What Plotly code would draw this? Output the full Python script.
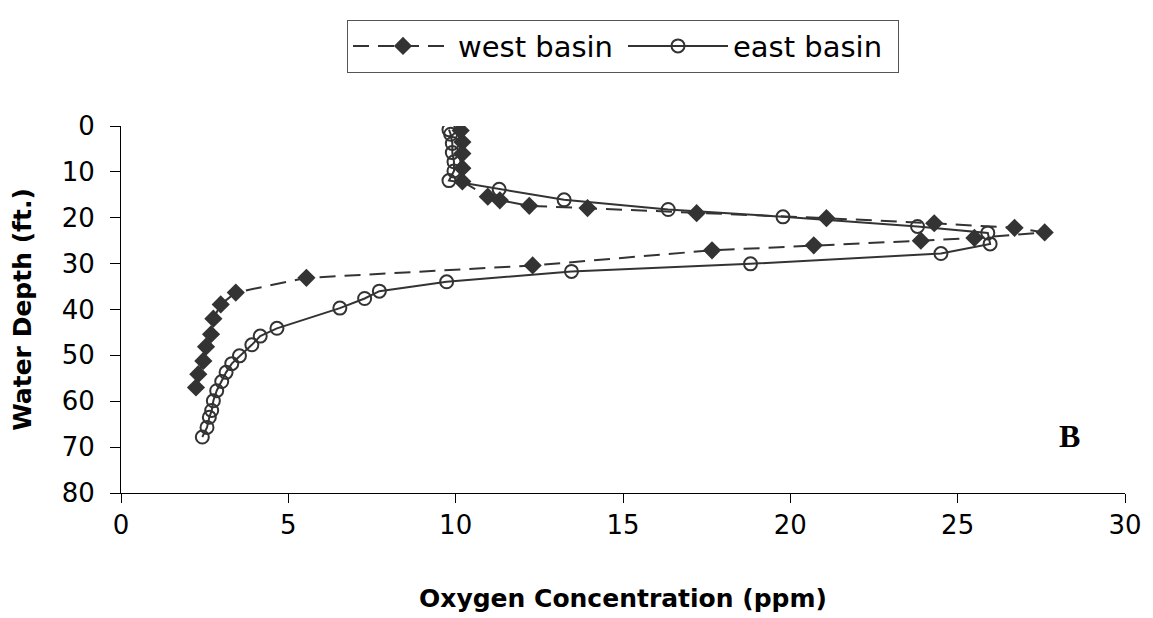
import plotly.graph_objects as go

# ---- data ----
west_oxygen = [10.15, 10.2, 10.2, 10.2, 10.2, 10.96, 11.32, 12.2, 13.94, 17.2, 21.08, 24.3, 26.7, 27.6,
               25.5, 23.9, 20.7, 17.66, 12.3, 5.54, 3.43, 2.98, 2.76, 2.69, 2.54, 2.46, 2.31, 2.24]
west_depth = [1.0, 3.5, 6.0, 9.2, 12.1, 15.4, 16.2, 17.4, 17.9, 19.0, 20.1, 21.2, 22.2, 23.2,
              24.4, 25.0, 26.0, 27.1, 30.4, 33.1, 36.3, 38.9, 42.0, 45.4, 48.1, 51.2, 54.1, 57.0]

east_oxygen = [9.8, 9.85, 9.9, 9.9, 9.95, 9.95, 9.8, 11.3, 13.24, 16.35, 19.78, 23.8, 25.9, 25.97,
               24.5, 18.81, 13.46, 9.73, 7.72, 7.28, 6.54, 4.66, 4.16, 3.91, 3.54, 3.31, 3.14, 3.01,
               2.86, 2.76, 2.71, 2.64, 2.57, 2.43]
east_depth = [0.8, 1.8, 3.8, 5.8, 7.8, 9.8, 11.9, 13.8, 16.1, 18.2, 19.8, 21.9, 23.3, 25.7,
              27.8, 30.05, 31.7, 33.96, 36.0, 37.6, 39.7, 44.1, 45.8, 47.7, 50.1, 51.8, 53.7, 55.7,
              57.7, 59.9, 62.0, 63.5, 65.7, 67.8]

x_ticks = [0, 5, 10, 15, 20, 25, 30]
y_ticks = [0, 10, 20, 30, 40, 50, 60, 70, 80]

ink = '#333333'
font_family = 'DejaVu Sans'

fig = go.Figure()

fig.add_trace(go.Scatter(
    name='west basin', x=west_oxygen, y=west_depth, mode='lines+markers',
    line=dict(color=ink, width=2, dash='16px,9px'),
    marker=dict(symbol='diamond', size=14, color=ink, line=dict(width=0)),
))

fig.add_trace(go.Scatter(
    name='east basin', x=east_oxygen, y=east_depth, mode='lines+markers',
    line=dict(color=ink, width=2),
    marker=dict(symbol='circle-open', size=13, color=ink, line=dict(width=2, color=ink)),
))

# panel letter
fig.add_annotation(text='<b>B</b>', xref='paper', yref='paper', x=0.957, y=0.10,
                   showarrow=False, font=dict(family='Liberation Serif', size=32, color='black'))

# the page body has an 8px margin, so margins are trimmed to keep the plot in place
fig.update_layout(
    width=1153, height=618,
    paper_bgcolor='white', plot_bgcolor='white',
    font=dict(family=font_family, size=25, color='black'),
    margin=dict(l=113, r=36, t=116, b=133),
    xaxis=dict(
        range=[0, 30], tickvals=x_ticks, showgrid=False, zeroline=False,
        showline=True, linecolor='black', linewidth=1, automargin=False,
        ticks='outside', ticklen=9, tickcolor='black',
        tickfont=dict(family=font_family, size=26),
        title=dict(text='<b>Oxygen Concentration (ppm)</b>', standoff=50,
                   font=dict(family=font_family, size=25)),
    ),
    yaxis=dict(
        range=[80, 0], tickvals=y_ticks, showgrid=False, zeroline=False,
        showline=True, linecolor='black', linewidth=1, automargin=False,
        ticks='outside', ticklen=10, tickcolor='black', ticklabelstandoff=10,
        tickfont=dict(family=font_family, size=26),
        title=dict(text='<b>Water Depth (ft.)</b>', standoff=28,
                   font=dict(family=font_family, size=25)),
    ),
    showlegend=True,
    legend=dict(
        orientation='h', x=0.5, xanchor='center', y=1.29, yanchor='top',
        bordercolor='#555555', borderwidth=1, bgcolor='white',
        itemwidth=100, entrywidth=160, font=dict(family=font_family, size=29),
    ),
)

fig.write_html("out.html")
